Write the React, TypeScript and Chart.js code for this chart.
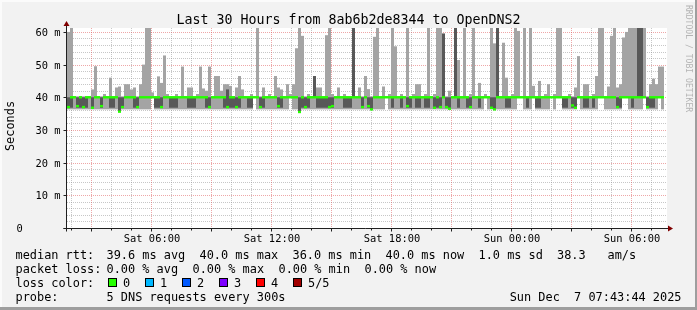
import React, { useEffect, useRef } from "react";
import { Chart, registerables } from "chart.js";

Chart.register(...registerables);

// ---------------- text ----------------
const TITLE = "Last 30 Hours from 8ab6b2de8344 to OpenDNS2";
const Y_AXIS_TITLE = "Seconds";
const WATERMARK = "RRDTOOL / TOBI OETIKER";

// ---------------- axes ----------------
const START_HOUR = 1.8; // Sat 01:48 (hours since Sat 00:00)
const SPAN_HOURS = 30;
const STEP_HOURS = 0.15; // one smoke column = 9 minutes
const Y_MAX = 61.2; // ms

const yMajorTicks = [0, 10, 20, 30, 40, 50, 60];
const yTickLabels = ["0", "10 m", "20 m", "30 m", "40 m", "50 m", "60 m"];
const yMinorStep = 2;
const xTickHours = [6, 12, 18, 24, 30];
const xTickLabels = ["Sat 06:00", "Sat 12:00", "Sat 18:00", "Sun 00:00", "Sun 06:00"];
const xMajorStep = 3;
const xMinorStep = 1;

// ---------------- data (ms) ----------------
// highest ping of each 5-ping round
const maxRtt = [
  60, 61.2, 40.3, 40.3, 40.3, 40.3, 40.3, 40.3, 42.4, 49.5,
  40.3, 40.3, 41, 40.3, 46, 40.3, 43, 43.3, 40.3, 44,
  44, 42.4, 43, 40.3, 44, 50, 61.2, 61.2, 41.5, 40.3,
  46.4, 44.4, 52.8, 41, 40.3, 40.3, 41, 40.3, 49.4, 40.3,
  43, 43, 40.3, 41, 49.4, 42.7, 42, 49.4, 40.3, 46.5,
  46.5, 42, 44, 44, 43.5, 40.3, 43, 46.5, 42.4, 40.3,
  40.3, 41, 40.3, 61.2, 40.3, 43, 40.3, 41, 40.3, 46.5,
  43, 42.4, 40.3, 44, 41, 44, 55, 61.2, 58.8, 40.3,
  41, 40.3, 46.5, 43, 43, 40.3, 59, 61.2, 41, 40.3,
  43, 40.3, 41, 40.3, 40.3, 61.2, 40.3, 43, 40.3, 46.5,
  42.5, 40.3, 58.5, 61.2, 40.3, 43.3, 40.3, 41, 61.2, 55.6,
  40.3, 41, 40.3, 61.2, 40.3, 41, 44, 44, 40.3, 41,
  61.2, 40.3, 41, 61.2, 61.2, 59.5, 40.3, 42, 40.3, 61.2,
  51.4, 40.3, 61.2, 40.3, 41, 61.2, 40.3, 44.4, 40.3, 41,
  40.3, 61.2, 56.5, 61.2, 40.3, 56.7, 46, 40.3, 41, 61.2,
  60.3, 40.3, 61.2, 40.3, 61.2, 43.5, 40.3, 45, 40.3, 41,
  44, 40.3, 41, 61.2, 61.2, 40.3, 40.3, 41, 40.3, 43,
  52.6, 40.3, 44, 44, 40.3, 41, 46.5, 61.2, 61.2, 40.3,
  43.3, 58.8, 61.2, 43, 44, 58.3, 60, 61.2, 61.2, 61.2,
  61.2, 61.2, 61.2, 40.3, 44, 45.7, 44, 49.4, 49.4, null,
];

// 4th ping (upper edge of the dark inner smoke)
const upRtt = [
  40, 40, 40, 40, 40, 40, 40, 40, 40, 40,
  40, 40, 40, 40, 40, 40, 40, 40, 40, 40,
  40, 40, 40, 40, 40, 40, 40, 40, 40, 40,
  40, 40, 40, 40, 40, 40, 40, 40, 40, 40,
  40, 40, 40, 40, 40, 40, 40, 40, 40, 40,
  40, 40, 40, 42.4, 40, 40, 40, 40, 40, 40,
  40, 40, 40, 40, 40, 40, 40, 40, 40, 40,
  40, 40, 40, 40, 40, 40, 40, 40, 40, 40,
  40, 40, 46.5, 40, 40, 40, 40, 40, 40, 40,
  40, 40, 40, 40, 40, 61.2, 40, 40, 40, 40,
  40, 40, 40, 40, 40, 40, 40, 40, 40, 40,
  40, 40, 40, 40, 40, 40, 40, 40, 40, 40,
  40, 40, 40, 40, 40, 59.5, 40, 40, 40, 61.2,
  40, 40, 40, 40, 40, 40, 40, 40, 40, 40,
  40, 40, 40, 61.2, 40, 40, 40, 40, 40, 40,
  40, 40, 40, 40, 40, 40, 40, 40, 40, 40,
  40, 40, 40, 40, 40, 40, 40, 40, 40, 40,
  40, 40, 40, 40, 40, 40, 40, 40, 40, 40,
  40, 40, 40, 40, 40, 40, 40, 40, 40, 40,
  61.2, 61.2, 40, 40, 40, 40, 40, 40, 40, null,
];

// median ping
const medianRtt = [
  37, 40, 40, 37.3, 40, 37, 40, 40, 36.8, 40,
  40, 37.3, 40, 40, 40, 40, 40, 35.6, 37, 40,
  40, 40, 40, 37, 40, 40, 40, 40, 40, 40,
  40, 37, 40, 40, 40, 40, 40, 40, 40, 40,
  40, 40, 40, 40, 40, 40, 40, 37, 40, 40,
  40, 40, 40, 37, 40, 40, 37, 40, 40, 40,
  40, 40, 40, 40, 37, 40, 40, 40, 40, 40,
  37.3, 40, 40, 40, 40, 40, 40, 35.5, 40, 37,
  40, 40, 40, 40, 40, 40, 40, 37, 37.3, 40,
  40, 40, 40, 40, 40, 40, 40, 40, 37, 40,
  37.3, 36.3, 40, 40, 40, 40, 40, 40, 40, 40,
  40, 40, 40, 37.3, 40, 40, 40, 40, 40, 40,
  40, 40, 36.8, 40, 37, 40, 37, 36.5, 40, 40,
  40, 40, 40, 40, 37, 40, 40, 40, 40, 40,
  40, 36.8, 36.3, 40, 40, 40, 40, 40, 40, 40,
  40, 40, 40, 40, 40, 40, 40, 40, 40, 40,
  40, 40, 40, 40, 40, 40, 40, 40, 37.5, 36.8,
  40, 40, 40, 40, 40, 40, 40, 40, 40, 40,
  40, 40, 40, 37, 40, 40, 40, 40, 40, 40,
  40, 40, 40, 37, 40, 40, 40, 40, 40, null,
];

// 2nd ping (lower edge of the dark inner smoke)
const loRtt = [
  36.8, 36.8, 40, 36.8, 36.8, 36.8, 36.8, 40, 36.8, 40,
  40, 36.8, 40, 40, 36.8, 36.8, 40, 35.6, 36.8, 40,
  40, 40, 36.8, 36.8, 40, 40, 40, 40, 40, 36.8,
  36.8, 36.8, 40, 40, 36.8, 36.8, 36.8, 40, 40, 40,
  36.8, 36.8, 36.8, 40, 40, 40, 36.8, 36.8, 40, 40,
  40, 40, 36.8, 36.8, 36.8, 36.8, 36.8, 36.8, 40, 40,
  36.8, 36.8, 40, 40, 36.8, 36.8, 40, 40, 40, 40,
  36.8, 36.8, 40, 40, 40, 40, 40, 35.5, 36.8, 36.8,
  36.8, 40, 40, 36.8, 36.8, 36.8, 36.8, 36.8, 36.8, 40,
  40, 40, 36.8, 36.8, 36.8, 40, 40, 40, 36.8, 40,
  36.8, 36.3, 40, 40, 40, 40, 40, 40, 36.8, 40,
  40, 36.8, 40, 36.8, 36.8, 40, 36.8, 36.8, 40, 36.8,
  36.8, 40, 36.8, 36.8, 36.8, 40, 36.8, 36.5, 40, 40,
  36.8, 40, 40, 36.8, 36.8, 40, 40, 36.8, 40, 40,
  40, 36.8, 36.3, 40, 40, 40, 36.8, 36.8, 40, 40,
  40, 40, 40, 36.8, 40, 40, 36.8, 36.8, 40, 40,
  40, 40, 40, 40, 40, 36.8, 36.8, 40, 36.8, 36.8,
  40, 40, 36.8, 36.8, 40, 36.8, 40, 40, 40, 40,
  40, 40, 40, 36.8, 36.8, 40, 40, 40, 36.8, 40,
  40, 40, 40, 36.8, 36.8, 36.8, 40, 40, 40, null,
];

// lowest ping of each round
const minRtt = [
  36.3, 36.3, 36.3, 36.3, 36.3, 36.3, 36.3, 36.3, 36.3, 36.3,
  36.3, 36.3, 36.3, 36.3, 36.3, 36.3, 36.3, 35.5, 36.3, 36.3,
  36.3, 36.3, 36.3, 36.3, 36.3, 36.3, 36.3, 36.3, 40, 36.3,
  36.3, 36.3, 36.3, 36.3, 36.3, 36.3, 36.3, 36.3, 36.3, 36.3,
  36.3, 36.3, 36.3, 36.3, 36.3, 36.3, 36.3, 36.3, 36.3, 36.3,
  36.3, 36.3, 36.3, 36.3, 36.3, 36.3, 36.3, 36.3, 36.3, 36.3,
  36.3, 36.3, 40, 36.3, 36.3, 36.3, 36.3, 36.3, 36.3, 36.3,
  36.3, 36.3, 36.3, 36.3, 40, 36.3, 36.3, 35.4, 36.3, 36.3,
  36.3, 36.3, 36.3, 36.3, 36.3, 36.3, 36.3, 36.3, 36.3, 36.3,
  36.3, 36.3, 36.3, 36.3, 36.3, 36.3, 36.3, 36.3, 36.3, 36.3,
  36.3, 36.3, 36.3, 36.3, 36.3, 36.3, 40, 36.3, 36.3, 36.3,
  36.3, 36.3, 36.3, 36.3, 36.3, 36.3, 36.3, 36.3, 36.3, 36.3,
  36.3, 36.3, 36.3, 36.3, 36.3, 36.3, 36.3, 36.3, 36.3, 36.3,
  36.3, 36.3, 36.3, 36.3, 36.3, 36.3, 36.3, 36.3, 36.3, 40,
  36.3, 36.3, 36.3, 36.3, 36.3, 36.3, 36.3, 36.3, 36.3, 36.3,
  40, 40, 36.3, 36.3, 36.3, 40, 36.3, 36.3, 36.3, 36.3,
  36.3, 40, 36.3, 40, 40, 36.3, 36.3, 36.3, 36.3, 36.3,
  40, 36.3, 36.3, 36.3, 36.3, 36.3, 36.3, 40, 40, 36.3,
  36.3, 36.3, 36.3, 36.3, 36.3, 40, 40, 36.3, 36.3, 36.3,
  36.3, 36.3, 40, 36.3, 36.3, 36.3, 36.3, 40, 36.3, null,
];

// ---------------- legend ----------------
const legendRttLabel = "median rtt:";
const legendRttItems = ["39.6 ms avg", "40.0 ms max", "36.0 ms min", "40.0 ms now", "1.0 ms sd", "38.3", "am/s"];
const legendLossLabel = "packet loss:";
const legendLossItems = ["0.00 % avg", "0.00 % max", "0.00 % min", "0.00 % now"];
const lossColorLabel = "loss color:";
const lossLabels = ["0", "1", "2", "3", "4", "5/5"];
const lossColors = ["#26ff00", "#00b8ff", "#0059ff", "#7e00ff", "#ff0000", "#a10000"];
const probeLabel = "probe:";
const probeText = "5 DNS requests every 300s";
const stampText = "Sun Dec  7 07:43:44 2025";

// ---------------- style ----------------
const MONO = "'DejaVu Sans Mono', monospace";
const BACK = "#f2f2f2";
const SHADE_A = "#fbfbfb";
const SHADE_B = "#9e9e9e";
const GRID = "rgba(143,143,143,0.5)";
const MGRID = "rgba(222,80,80,0.5)";
const AXIS = "#202020";
const ARROW = "#800000";
const SMOKE_OUTER = "#a4a4a4";
const SMOKE_INNER = "#585858";

const rrdPlugin = {
  id: "rrdStyle",
  beforeDraw(chart: any) {
    const ctx = chart.ctx;
    const w = chart.width;
    const h = chart.height;
    const a = chart.chartArea;
    ctx.save();
    ctx.fillStyle = BACK;
    ctx.fillRect(0, 0, w, h);
    ctx.fillStyle = SHADE_A;
    ctx.fillRect(0, 0, w, 2);
    ctx.fillRect(0, 0, 2, h);
    ctx.fillStyle = SHADE_B;
    ctx.fillRect(0, h - 3, w, 3);
    ctx.fillRect(w - 2, 0, 2, h);
    ctx.fillStyle = "#ffffff";
    ctx.fillRect(a.left, a.top, a.right - a.left, a.bottom - a.top);
    ctx.restore();
  },
  beforeDatasetsDraw(chart: any) {
    const ctx = chart.ctx;
    const a = chart.chartArea;
    const xs = chart.scales.x;
    const ys = chart.scales.y;
    ctx.save();
    ctx.lineWidth = 1;
    ctx.setLineDash([1, 1]);
    const hline = (v: number, color: string) => {
      const y = Math.round(ys.getPixelForValue(v)) + 0.5;
      ctx.strokeStyle = color;
      ctx.beginPath();
      ctx.moveTo(a.left, y);
      ctx.lineTo(a.right, y);
      ctx.stroke();
    };
    const vline = (hr: number, color: string) => {
      const x = Math.round(xs.getPixelForValue(hr)) + 0.5;
      ctx.strokeStyle = color;
      ctx.beginPath();
      ctx.moveTo(x, a.top);
      ctx.lineTo(x, a.bottom);
      ctx.stroke();
    };
    for (let v = yMinorStep; v < Y_MAX; v += yMinorStep) {
      if (!yMajorTicks.includes(v)) hline(v, GRID);
    }
    for (let hr = Math.ceil(START_HOUR); hr < START_HOUR + SPAN_HOURS; hr += xMinorStep) {
      if (hr % xMajorStep !== 0) vline(hr, GRID);
    }
    yMajorTicks.forEach((v) => { if (v > 0) hline(v, MGRID); });
    for (let hr = Math.ceil(START_HOUR); hr < START_HOUR + SPAN_HOURS; hr += xMinorStep) {
      if (hr % xMajorStep === 0) vline(hr, MGRID);
    }
    ctx.restore();
  },
  afterDatasetsDraw(chart: any) {
    const ctx = chart.ctx;
    const a = chart.chartArea;
    const xs = chart.scales.x;
    const ys = chart.scales.y;
    ctx.save();
    ctx.lineWidth = 1;
    const ax = a.left - 0.5;
    const ay = Math.round(ys.getPixelForValue(0)) + 0.5;
    ctx.strokeStyle = AXIS;
    ctx.beginPath();
    ctx.moveTo(ax, ay + 3);
    ctx.lineTo(ax, a.top - 2);
    ctx.moveTo(ax - 3, ay);
    ctx.lineTo(a.right + 1, ay);
    ctx.stroke();
    ctx.beginPath();
    yMajorTicks.forEach((v) => {
      const y = Math.round(ys.getPixelForValue(v)) + 0.5;
      ctx.moveTo(ax - 3, y);
      ctx.lineTo(ax, y);
    });
    for (let hr = Math.ceil(START_HOUR); hr < START_HOUR + SPAN_HOURS; hr += xMinorStep) {
      const x = Math.round(xs.getPixelForValue(hr)) + 0.5;
      ctx.moveTo(x, ay);
      ctx.lineTo(x, ay + (hr % xMajorStep === 0 ? 3 : 2));
    }
    ctx.stroke();
    ctx.fillStyle = ARROW;
    ctx.beginPath();
    ctx.moveTo(ax - 3, a.top - 2);
    ctx.lineTo(ax + 3, a.top - 2);
    ctx.lineTo(ax, a.top - 7);
    ctx.closePath();
    ctx.fill();
    ctx.beginPath();
    ctx.moveTo(a.right + 1, ay - 3);
    ctx.lineTo(a.right + 1, ay + 3);
    ctx.lineTo(a.right + 6, ay);
    ctx.closePath();
    ctx.fill();
    ctx.restore();
  },
  afterDraw(chart: any) {
    const ctx = chart.ctx;
    const a = chart.chartArea;
    const xs = chart.scales.x;
    const ys = chart.scales.y;
    const W = chart.width;
    ctx.save();
    ctx.fillStyle = "#000";
    ctx.textBaseline = "alphabetic";

    ctx.font = `13.3px ${MONO}`;
    ctx.textAlign = "center";
    ctx.fillText(TITLE, W / 2, 23.5);

    ctx.font = `10.4px ${MONO}`;
    xTickHours.forEach((hr, i) => {
      ctx.textAlign = "center";
      ctx.fillText(xTickLabels[i], xs.getPixelForValue(hr) + 1, 241.5);
    });
    yMajorTicks.forEach((v, i) => {
      const y = Math.round(ys.getPixelForValue(v)) + 4;
      if (v === 0) {
        ctx.textAlign = "left";
        ctx.fillText(yTickLabels[i], 16.5, y);
      } else {
        ctx.textAlign = "right";
        ctx.fillText(yTickLabels[i], a.left - 6.5, y);
      }
    });

    ctx.font = `11.9px ${MONO}`;
    ctx.save();
    ctx.translate(14, (a.top + a.bottom) / 2 - 2);
    ctx.rotate(-Math.PI / 2);
    ctx.textAlign = "center";
    ctx.fillText(Y_AXIS_TITLE, 0, 0);
    ctx.restore();

    ctx.save();
    ctx.font = `8.1px ${MONO}`;
    ctx.fillStyle = "#b4b4b4";
    ctx.translate(686, 5);
    ctx.rotate(Math.PI / 2);
    ctx.textAlign = "left";
    ctx.fillText(WATERMARK, 0, 0);
    ctx.restore();

    ctx.font = `11.9px ${MONO}`;
    ctx.textAlign = "left";
    const L1 = 258.7, L2 = 272.7, L3 = 286.7, L4 = 300.5;
    ctx.fillText(legendRttLabel, 15.5, L1);
    const rttX = [106.5, 199.5, 292.5, 385.5, 478.5, 557, 607.5];
    legendRttItems.forEach((s, i) => ctx.fillText(s, rttX[i], L1));
    ctx.fillText(legendLossLabel, 15.5, L2);
    const lossX = [106.5, 192.5, 278.5, 364.5];
    legendLossItems.forEach((s, i) => ctx.fillText(s, lossX[i], L2));
    ctx.fillText(lossColorLabel, 15.5, L3);
    lossLabels.forEach((s, i) => {
      const bx = 108 + 37 * i;
      ctx.fillStyle = lossColors[i];
      ctx.fillRect(bx, 278, 9, 9);
      ctx.strokeStyle = "#000";
      ctx.lineWidth = 1;
      ctx.strokeRect(bx + 0.5, 278.5, 8, 8);
      ctx.fillStyle = "#000";
      ctx.fillText(s, bx + 15, L3);
    });
    ctx.fillText(probeLabel, 15.5, L4);
    ctx.fillText(probeText, 106.5, L4);
    ctx.textAlign = "right";
    ctx.fillText(stampText, 681.5, L4);
    ctx.restore();
  },
};

export default function App() {
  const ref = useRef<HTMLCanvasElement | null>(null);

  useEffect(() => {
    const canvas = ref.current;
    if (!canvas) return;
    const xAt = (i: number) => START_HOUR + STEP_HOURS * (i + 0.5);
    const outer: any[] = [];
    const inner: any[] = [];
    const median: any[] = [];
    maxRtt.forEach((mx, i) => {
      if (mx == null) return;
      outer.push({ x: xAt(i), y: [minRtt[i], mx] });
      if ((upRtt[i] as number) > (loRtt[i] as number)) inner.push({ x: xAt(i), y: [loRtt[i], upRtt[i]] });
      median.push({ x: xAt(i), y: medianRtt[i] });
    });

    const chart = new Chart(canvas, {
      type: "bar",
      data: {
        datasets: [
          {
            type: "line",
            label: "median",
            data: median,
            showLine: false,
            pointStyle: "line",
            pointRadius: 1.5,
            pointHoverRadius: 1.5,
            pointBorderWidth: 2.4,
            pointBorderColor: lossColors[0],
            pointBackgroundColor: lossColors[0],
            order: 0,
          } as any,
          {
            type: "bar",
            label: "inner smoke",
            data: inner,
            backgroundColor: SMOKE_INNER,
            grouped: false,
            barPercentage: 1,
            categoryPercentage: 1,
            inflateAmount: 0,
            order: 1,
          } as any,
          {
            type: "bar",
            label: "outer smoke",
            data: outer,
            backgroundColor: SMOKE_OUTER,
            grouped: false,
            barPercentage: 1,
            categoryPercentage: 1,
            inflateAmount: 0,
            order: 2,
          } as any,
        ],
      },
      options: {
        animation: false,
        responsive: false,
        maintainAspectRatio: false,
        events: [],
        layout: { padding: { left: 67, right: 30, top: 28, bottom: 82 } },
        plugins: { legend: { display: false }, tooltip: { enabled: false } },
        scales: {
          x: {
            type: "linear",
            display: false,
            min: START_HOUR,
            max: START_HOUR + SPAN_HOURS,
            offset: false,
            afterBuildTicks: (s: any) => { s.ticks = xTickHours.map((v) => ({ value: v })); },
          },
          y: {
            type: "linear",
            display: false,
            min: 0,
            max: Y_MAX,
            afterBuildTicks: (s: any) => { s.ticks = yMajorTicks.map((v) => ({ value: v })); },
          },
        },
      } as any,
      plugins: [rrdPlugin],
    });
    return () => chart.destroy();
  }, []);

  return (
    <div style={{ position: "fixed", left: 0, top: 0, width: 697, height: 310 }}>
      <canvas ref={ref} width={697} height={310} style={{ width: 697, height: 310, display: "block" }} />
    </div>
  );
}
